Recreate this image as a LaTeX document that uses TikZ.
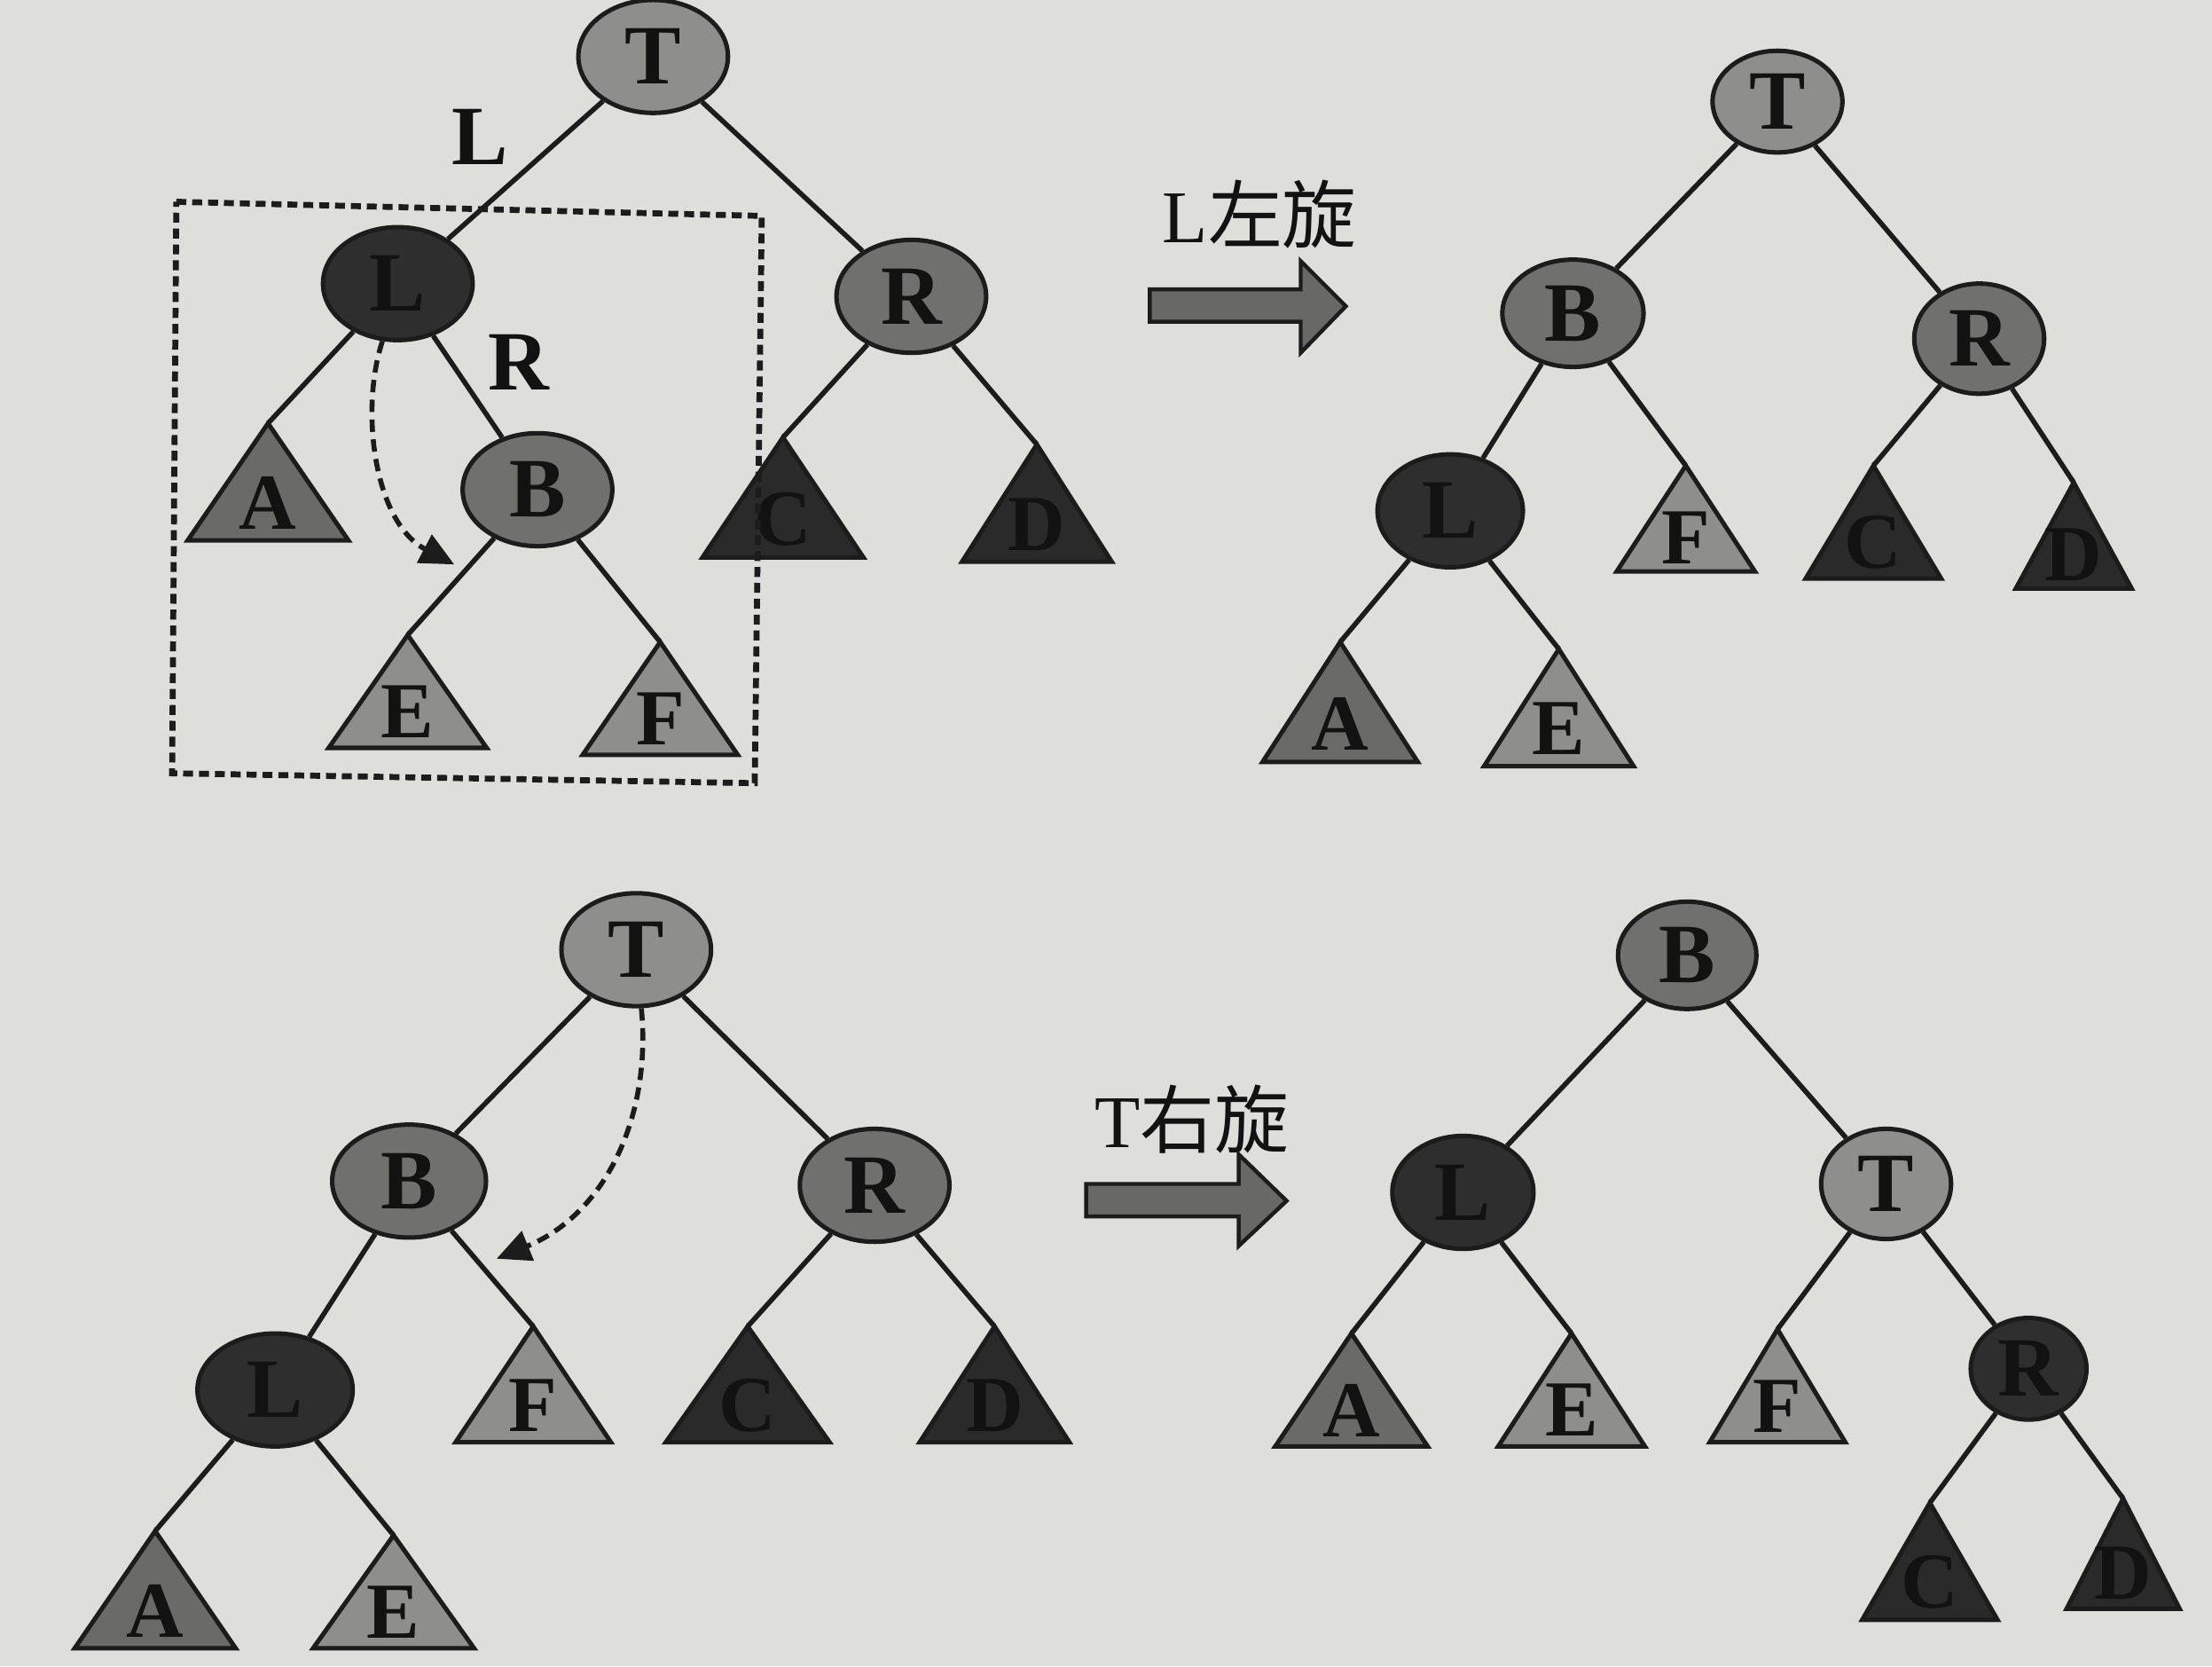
\documentclass[tikz,border=0pt]{standalone}
\usepackage{fontspec}
\setmainfont{Liberation Serif}
\newfontfamily\cjk{Noto Sans CJK SC}
\usetikzlibrary{arrows.meta,shapes.geometric}
\definecolor{paper}{RGB}{222,222,219}
\definecolor{lineblack}{RGB}{28,28,28}
\definecolor{letter}{RGB}{18,18,18}
\definecolor{nodelight}{RGB}{142,142,140}
\definecolor{nodemid}{RGB}{112,112,110}
\definecolor{nodedark}{RGB}{46,46,46}
\definecolor{trilight}{RGB}{142,142,140}
\definecolor{trimid}{RGB}{106,106,104}
\definecolor{tridark}{RGB}{42,42,42}
\definecolor{arrowgray}{RGB}{104,104,102}

% name, apex x, apex y, half base, height, fill, letter
\newcommand{\subtree}[7]{%
  \draw[tri, fill=#6] (#2,#3) coordinate (#1) -- ++(-#4,#5) -- ++(2*#4,0) -- cycle;
  \node[trilbl] (#1l) at (#2,#3+#5*0.68) {#7};}

\begin{document}
\begin{tikzpicture}[
  x=0.01cm, y=-0.01cm,
  knot/.style={ellipse, draw=lineblack, line width=0.9pt, inner sep=0pt, minimum width=1.06cm, minimum height=0.8cm, text=letter, font=\fontsize{17}{17}\selectfont\bfseries},
  smallknot/.style={minimum width=0.92cm, minimum height=0.72cm},
  tri/.style={draw=lineblack, line width=0.9pt},
  trilbl/.style={inner sep=0pt, text=letter, font=\fontsize{16}{16}\selectfont\bfseries},
  link/.style={draw=lineblack, line width=1pt},
  rotpath/.style={draw=lineblack, line width=1pt, dash pattern=on 2.5pt off 1.5pt, -{Triangle[length=2.4mm,width=2.2mm]}},
  cutbox/.style={draw=lineblack, line width=1.2pt, dash pattern=on 2pt off 1.2pt},
  bigarrow/.style={draw=lineblack, line width=0.8pt, fill=arrowgray},
  rotlbl/.style={inner sep=0pt, text=letter, font=\fontsize{15}{15}\selectfont},
  edgelbl/.style={inner sep=0pt, text=letter, font=\fontsize{17}{17}\selectfont\bfseries}
]
\fill[paper] (0,0) rectangle (1568,1181);
\useasboundingbox (0,0) rectangle (1568,1181);

\node[knot, fill=nodelight] (t1) at (463,40) {T};
\node[knot, fill=nodedark] (l1) at (282,201) {L};
\node[knot, fill=nodemid] (r1) at (646,210) {R};
\node[knot, fill=nodemid] (b1) at (381,347) {B};
\subtree{a1}{190}{300}{57}{83}{trimid}{A}
\subtree{e1}{289}{450}{56}{80}{trilight}{E}
\subtree{f1}{468}{455}{55}{80}{trilight}{F}
\subtree{c1}{555}{310}{57}{85}{tridark}{C}
\subtree{d1}{735}{315}{53}{83}{tridark}{D}
\draw[link] (t1) -- (l1);
\draw[link] (t1) -- (r1);
\draw[link] (l1) -- (a1);
\draw[link] (l1) -- (b1);
\draw[link] (b1) -- (e1);
\draw[link] (b1) -- (f1);
\draw[link] (r1) -- (c1);
\draw[link] (r1) -- (d1);
\node[edgelbl] (el1) at (340,97) {L};
\node[edgelbl] (er1) at (368,257) {R};
\draw[cutbox] (125,143) -- (540,153) -- (535,555) -- (122,548) -- cycle;
\coordinate (m1) at (322,400);
\draw[rotpath] (l1.-105) .. controls (255,290) and (265,370) .. (m1);

\node[rotlbl] (rot1) at (893,152) {L\cjk 左旋};
\draw[bigarrow] (815,205) -- (922,205) -- (922,185) -- (954,217) -- (922,250) -- (922,228) -- (815,228) -- cycle;

\node[knot, smallknot, fill=nodelight] (t2) at (1260,72) {T};
\node[knot, fill=nodemid, minimum width=1.0cm, minimum height=0.76cm] (b2) at (1115,222) {B};
\node[knot, smallknot, fill=nodemid, minimum height=0.78cm] (r2) at (1403,240) {R};
\node[knot, fill=nodedark, minimum width=1.03cm] (l2) at (1028,362) {L};
\subtree{f2}{1195}{330}{49}{75}{trilight}{F}
\subtree{c2}{1328}{330}{48}{80}{tridark}{C}
\subtree{d2}{1470}{342}{41}{75}{tridark}{D}
\subtree{a2}{950}{455}{55}{85}{trimid}{A}
\subtree{e2}{1105}{460}{53}{83}{trilight}{E}
\draw[link] (t2) -- (b2);
\draw[link] (t2) -- (r2);
\draw[link] (b2) -- (l2);
\draw[link] (b2) -- (f2);
\draw[link] (r2) -- (c2);
\draw[link] (r2) -- (d2);
\draw[link] (l2) -- (a2);
\draw[link] (l2) -- (e2);

\node[knot, fill=nodelight] (t3) at (451,673) {T};
\node[knot, fill=nodemid, minimum width=1.09cm] (b3) at (290,837) {B};
\node[knot, fill=nodemid] (r3) at (620,840) {R};
\node[knot, fill=nodedark, minimum width=1.1cm] (l3) at (195,985) {L};
\subtree{f3}{378}{940}{55}{82}{trilight}{F}
\subtree{c3}{530}{940}{58}{82}{tridark}{C}
\subtree{d3}{705}{940}{53}{82}{tridark}{D}
\subtree{a3}{110}{1085}{57}{83}{trimid}{A}
\subtree{e3}{279}{1088}{57}{80}{trilight}{E}
\draw[link] (t3) -- (b3);
\draw[link] (t3) -- (r3);
\draw[link] (b3) -- (l3);
\draw[link] (b3) -- (f3);
\draw[link] (r3) -- (c3);
\draw[link] (r3) -- (d3);
\draw[link] (l3) -- (a3);
\draw[link] (l3) -- (e3);
\coordinate (m2) at (352,892);
\draw[rotpath] (t3.-85) .. controls (462,790) and (430,860) .. (m2);

\node[rotlbl] (rot2) at (845,793) {T\cjk 右旋};
\draw[bigarrow] (770,839) -- (878,839) -- (878,818) -- (912,851) -- (878,883) -- (878,862) -- (770,862) -- cycle;

\node[knot, fill=nodemid, minimum width=0.98cm, minimum height=0.76cm] (b4) at (1196,677) {B};
\node[knot, fill=nodedark, minimum width=1.0cm] (l4) at (1037,845) {L};
\node[knot, smallknot, fill=nodelight, minimum height=0.78cm] (t4) at (1337,839) {T};
\node[knot, fill=nodedark, minimum width=0.82cm, minimum height=0.72cm] (r4) at (1438,970) {R};
\subtree{a4}{958}{945}{54}{80}{trimid}{A}
\subtree{e4}{1114}{945}{52}{80}{trilight}{E}
\subtree{f4}{1260}{942}{48}{80}{trilight}{F}
\subtree{c4}{1368}{1065}{48}{83}{tridark}{C}
\subtree{d4}{1505}{1062}{40}{78}{tridark}{D}
\draw[link] (b4) -- (l4);
\draw[link] (b4) -- (t4);
\draw[link] (l4) -- (a4);
\draw[link] (l4) -- (e4);
\draw[link] (t4) -- (f4);
\draw[link] (t4) -- (r4);
\draw[link] (r4) -- (c4);
\draw[link] (r4) -- (d4);
\end{tikzpicture}
\end{document}
